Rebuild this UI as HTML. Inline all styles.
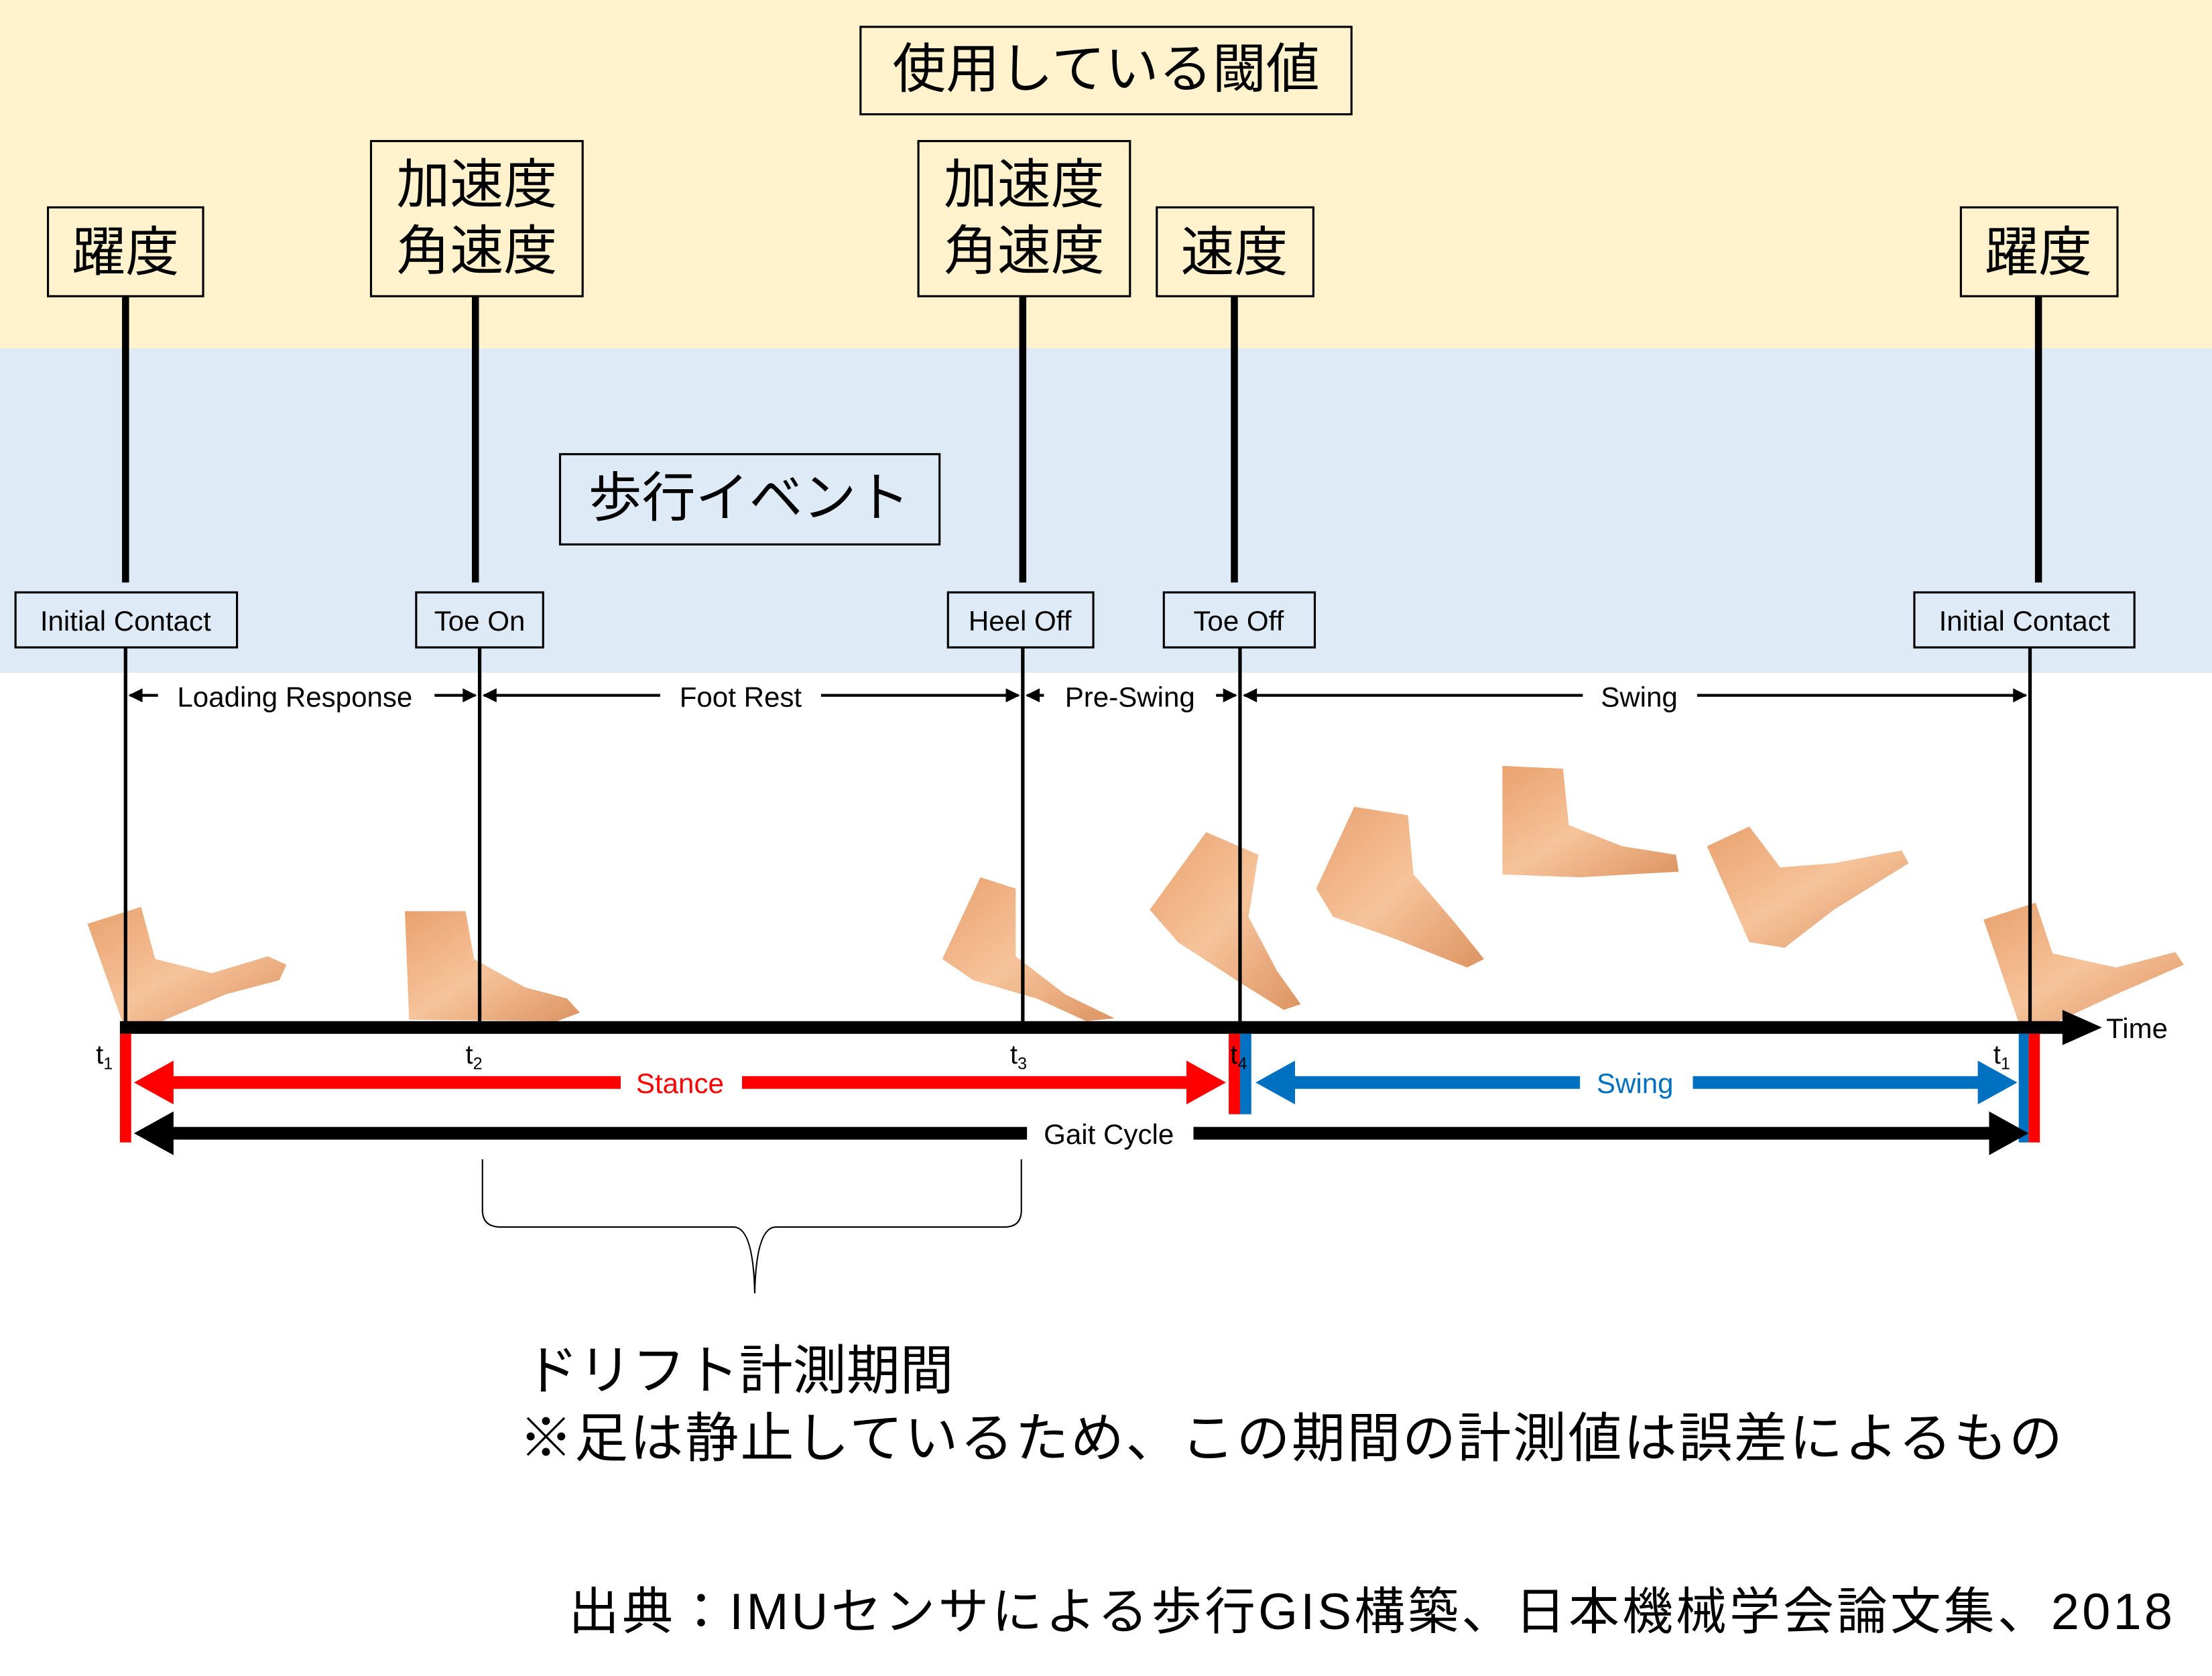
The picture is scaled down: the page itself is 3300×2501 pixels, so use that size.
<!DOCTYPE html>
<html><head><meta charset="utf-8"><style>
html,body{margin:0;padding:0;background:#fff;}
svg{display:block;}
.jp{font-family:"Liberation Sans","Noto Sans CJK JP",sans-serif;}
.en{font-family:"Liberation Sans","Noto Sans CJK JP",sans-serif;}
</style></head><body>
<svg width="3300" height="2501" viewBox="0 0 1568 1188.3" xmlns="http://www.w3.org/2000/svg">
<defs>
<linearGradient id="sk" x1="0" y1="0" x2="1" y2="1">
<stop offset="0" stop-color="#e9a26f"/><stop offset="0.5" stop-color="#f6c39a"/><stop offset="1" stop-color="#dd9462"/>
</linearGradient>
</defs>
<rect x="0" y="0" width="1568" height="247" fill="#FFF2CC"/>
<rect x="0" y="247" width="1568" height="230" fill="#DEEBF7"/>

<g fill="none" stroke="#000" stroke-width="1.5">
<rect x="610" y="19" width="348" height="62"/>
<rect x="34" y="147" width="110" height="63"/>
<rect x="263" y="100" width="150" height="110"/>
<rect x="651" y="100" width="150" height="110"/>
<rect x="820" y="147" width="111" height="63"/>
<rect x="1390" y="147" width="111" height="63"/>
<rect x="397" y="322" width="269" height="64"/>
<rect x="11" y="420" width="157" height="39"/>
<rect x="295" y="420" width="90" height="39"/>
<rect x="672" y="420" width="103" height="39"/>
<rect x="825" y="420" width="107" height="39"/>
<rect x="1357" y="420" width="156" height="39"/>
</g>
<g class="jp" font-size="38" fill="#000" text-anchor="middle">
<text x="784" y="62">使用している閾値</text>
<text x="89" y="192">躍度</text>
<text x="338" y="144">加速度</text>
<text x="338" y="191">角速度</text>
<text x="726" y="144">加速度</text>
<text x="726" y="191">角速度</text>
<text x="875" y="192">速度</text>
<text x="1445" y="192">躍度</text>
<text x="531" y="366">歩行イベント</text>
</g>
<g class="en" font-size="20" fill="#000" text-anchor="middle">
<text x="89" y="447">Initial Contact</text>
<text x="340" y="447">Toe On</text>
<text x="723" y="447">Heel Off</text>
<text x="878" y="447">Toe Off</text>
<text x="1435" y="447">Initial Contact</text>
</g>
<g stroke="#000" stroke-width="5">
<line x1="89" y1="210" x2="89" y2="413"/>
<line x1="337" y1="210" x2="337" y2="413"/>
<line x1="725" y1="210" x2="725" y2="413"/>
<line x1="875" y1="210" x2="875" y2="413"/>
<line x1="1445" y1="210" x2="1445" y2="413"/>
</g>

<g fill="url(#sk)">
<path d="M62,655 L100,643 L110,680 L150,690 L190,678 L203,684 L198,695 L160,705 L110,726 L88,728 Z"/>
<path d="M287,646 L330,646 L336,680 L372,700 L402,708 L411,718 L395,724 L290,723 Z"/>
<path d="M695,622 L720,630 L720,678 L755,705 L790,722 L770,724 L735,708 L690,695 L668,680 Z"/>
<path d="M855,590 L892,606 L885,650 L905,688 L922,712 L910,716 L878,696 L835,668 L815,645 Z"/>
<path d="M960,572 L998,578 L1002,620 L1032,655 L1052,680 L1040,686 L990,666 L945,650 L933,630 Z"/>
<path d="M1065,543 L1108,545 L1112,585 L1150,600 L1188,606 L1190,618 L1120,622 L1065,620 Z"/>
<path d="M1210,600 L1240,586 L1262,615 L1300,612 L1348,603 L1353,612 L1300,645 L1265,672 L1240,668 Z"/>
<path d="M1406,652 L1443,640 L1455,676 L1500,686 L1542,675 L1548,684 L1500,705 L1455,726 L1432,728 Z"/>
</g>

<g stroke="#000" stroke-width="2.5">
<line x1="89" y1="459" x2="89" y2="728"/>
<line x1="340" y1="459" x2="340" y2="728"/>
<line x1="725" y1="459" x2="725" y2="728"/>
<line x1="879" y1="459" x2="879" y2="728"/>
<line x1="1439" y1="459" x2="1439" y2="728"/>
</g>

<g stroke="#000" stroke-width="2">
<line x1="92" y1="493" x2="112" y2="493"/><line x1="308" y1="493" x2="337" y2="493"/>
<line x1="343" y1="493" x2="468" y2="493"/><line x1="582" y1="493" x2="722" y2="493"/>
<line x1="728" y1="493" x2="740" y2="493"/><line x1="862" y1="493" x2="876" y2="493"/>
<line x1="882" y1="493" x2="1122" y2="493"/><line x1="1203" y1="493" x2="1436" y2="493"/>
</g>
<g fill="#000">
<path d="M91,493 l10,-5 v10 Z"/><path d="M338,493 l-10,-5 v10 Z"/>
<path d="M342,493 l10,-5 v10 Z"/><path d="M723,493 l-10,-5 v10 Z"/>
<path d="M727,493 l10,-5 v10 Z"/><path d="M877,493 l-10,-5 v10 Z"/>
<path d="M881,493 l10,-5 v10 Z"/><path d="M1437,493 l-10,-5 v10 Z"/>
</g>
<g class="en" font-size="20" fill="#000" text-anchor="middle">
<text x="209" y="501">Loading Response</text>
<text x="525" y="501">Foot Rest</text>
<text x="801" y="501">Pre-Swing</text>
<text x="1162" y="501">Swing</text>
</g>

<rect x="85" y="724" width="1380" height="9" fill="#000"/>
<path d="M1462,716 L1490,728.5 L1462,741 Z" fill="#000"/>
<text class="en" x="1493" y="736" font-size="20">Time</text>

<rect x="85" y="733" width="8" height="77" fill="#FF0000"/>
<rect x="871" y="733" width="8" height="57" fill="#FF0000"/>
<rect x="879" y="733" width="8" height="57" fill="#0070C0"/>
<rect x="1431" y="733" width="7" height="77" fill="#0070C0"/>
<rect x="1438" y="733" width="8" height="77" fill="#FF0000"/>

<rect x="110" y="763" width="330" height="9" fill="#FF0000"/>
<rect x="526" y="763" width="320" height="9" fill="#FF0000"/>
<path d="M95,767.5 L123,752 L123,783 Z M869,767.5 L841,752 L841,783 Z" fill="#FF0000"/>
<text class="en" x="482" y="775" font-size="20" fill="#FF0000" text-anchor="middle">Stance</text>
<rect x="905" y="763" width="215" height="9" fill="#0070C0"/>
<rect x="1200" y="763" width="210" height="9" fill="#0070C0"/>
<path d="M890,767.5 L918,752 L918,783 Z M1430,767.5 L1402,752 L1402,783 Z" fill="#0070C0"/>
<text class="en" x="1159" y="775" font-size="20" fill="#0070C0" text-anchor="middle">Swing</text>
<rect x="110" y="799" width="618" height="9" fill="#000"/>
<rect x="846" y="799" width="570" height="9" fill="#000"/>
<path d="M95,803.5 L123,788 L123,819 Z M1438,803.5 L1410,788 L1410,819 Z" fill="#000"/>
<text class="en" x="786" y="811" font-size="20" fill="#000" text-anchor="middle">Gait Cycle</text>

<g class="en" font-size="19" fill="#000">
<text x="68" y="754">t<tspan font-size="12" dy="4">1</tspan></text>
<text x="330" y="754">t<tspan font-size="12" dy="4">2</tspan></text>
<text x="716" y="754">t<tspan font-size="12" dy="4">3</tspan></text>
<text x="872" y="754">t<tspan font-size="12" dy="4">4</tspan></text>
<text x="1413" y="754">t<tspan font-size="12" dy="4">1</tspan></text>
</g>

<path d="M342,822 L342,858 Q342,870 355,870 L520,870 Q534,870 535,917 Q536,870 550,870 L712,870 Q724,870 724,858 L724,822" fill="none" stroke="#000" stroke-width="1"/>

<g class="jp" font-size="38" fill="#000">
<text x="372" y="985">ドリフト計測期間</text>
<text x="368" y="1033" textLength="1094" lengthAdjust="spacing">※足は静止しているため、この期間の計測値は誤差によるもの</text>
<text x="403" y="1155" font-size="36" textLength="1137" lengthAdjust="spacing">出典：IMUセンサによる歩行GIS構築、日本機械学会論文集、2018</text>
</g>
</svg>
</body></html>
